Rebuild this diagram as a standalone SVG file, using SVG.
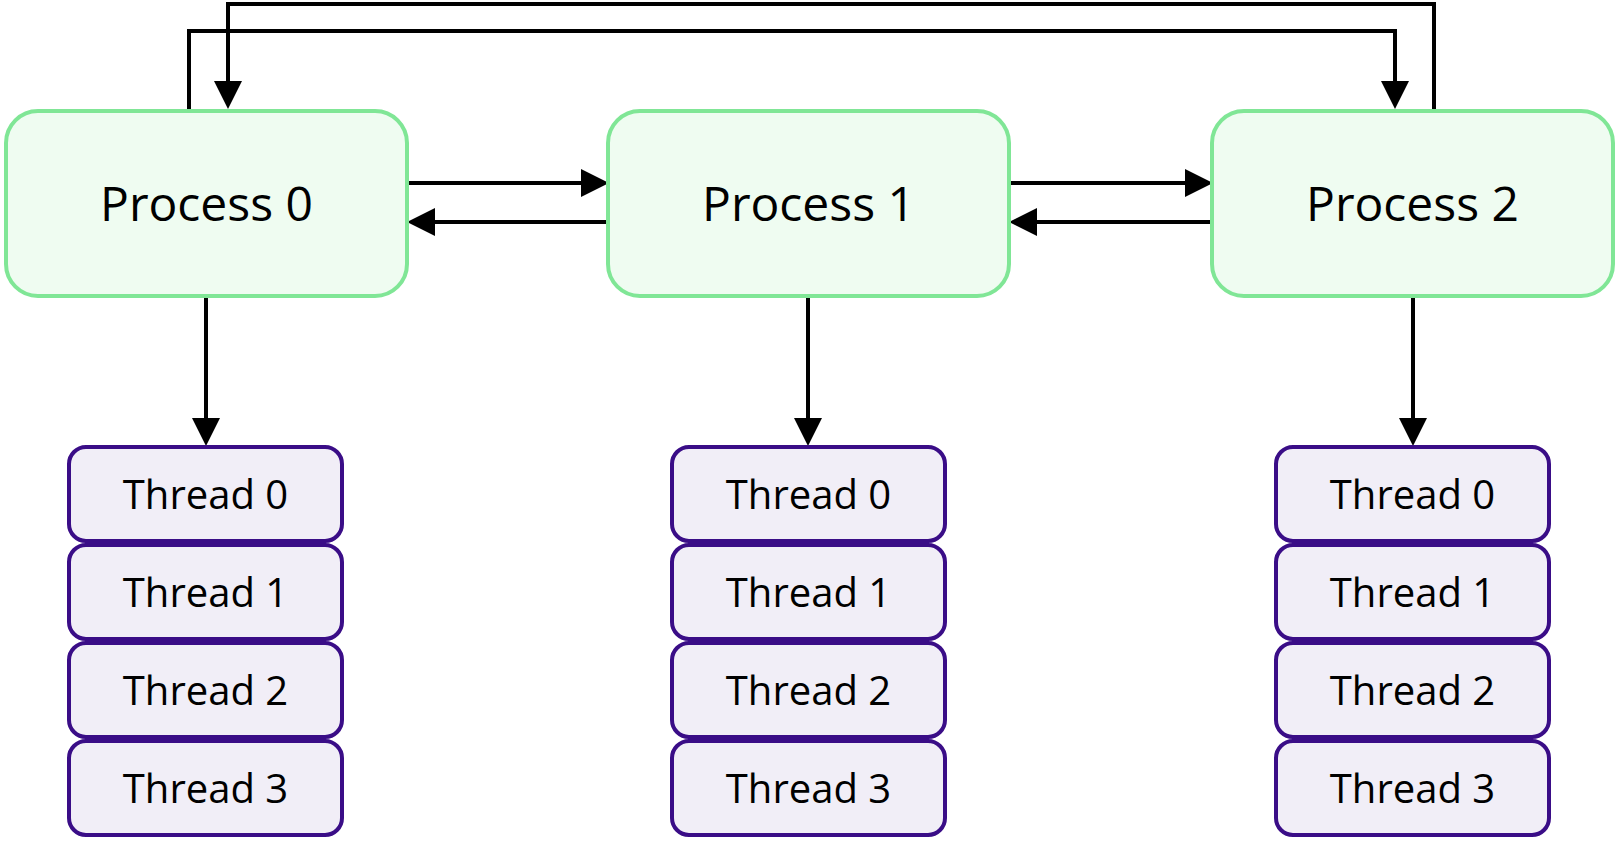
<svg xmlns="http://www.w3.org/2000/svg" width="1617" height="847" viewBox="0 0 1617 847">
<style>
.proc rect{fill:#effcf1;stroke:#80e696;stroke-width:4}
.thr rect{fill:#f1eef7;stroke:#3a0d87;stroke-width:4}
text{font-family:"Open Sans","Noto Sans",sans-serif;fill:#000;text-anchor:middle}
.proc text{font-size:48px}
.thr text{font-size:40px}
.conn path{fill:none;stroke:#000;stroke-width:4}
</style>
<defs>
<marker id="ah" markerUnits="userSpaceOnUse" markerWidth="28" markerHeight="28" refX="0" refY="13.5" orient="auto" viewBox="0 0 27 27">
<path d="M0,0 L27,13.5 L0,27 Z" fill="#000"/>
</marker>
</defs>
<rect width="1617" height="847" fill="#fff"/>
<g class="conn">
<path d="M189,110 V31 H1395 V81" marker-end="url(#ah)"/>
<path d="M1434,110 V4 H228 V81" marker-end="url(#ah)"/>
<path d="M407,183 H581" marker-end="url(#ah)"/>
<path d="M608,222 H435" marker-end="url(#ah)"/>
<path d="M1010,183 H1185" marker-end="url(#ah)"/>
<path d="M1212,222 H1037" marker-end="url(#ah)"/>
<path d="M206,298 V418" marker-end="url(#ah)"/>
<path d="M808,298 V418" marker-end="url(#ah)"/>
<path d="M1413,298 V418" marker-end="url(#ah)"/>
</g>
<g id="process0" class="proc"><rect x="6" y="111" width="401" height="185" rx="32"/><text x="206.5" y="221">Process 0</text></g>
<g id="process1" class="proc"><rect x="608" y="111" width="401" height="185" rx="32"/><text x="808.5" y="221">Process 1</text></g>
<g id="process2" class="proc"><rect x="1212" y="111" width="401" height="185" rx="32"/><text x="1412.5" y="221">Process 2</text></g>
<g id="p0t0" class="thr"><rect x="69" y="447" width="273" height="94" rx="17"/><text x="205.5" y="509">Thread 0</text></g>
<g id="p0t1" class="thr"><rect x="69" y="545" width="273" height="94" rx="17"/><text x="205.5" y="607">Thread 1</text></g>
<g id="p0t2" class="thr"><rect x="69" y="643" width="273" height="94" rx="17"/><text x="205.5" y="705">Thread 2</text></g>
<g id="p0t3" class="thr"><rect x="69" y="741" width="273" height="94" rx="17"/><text x="205.5" y="803">Thread 3</text></g>
<g id="p1t0" class="thr"><rect x="672" y="447" width="273" height="94" rx="17"/><text x="808.5" y="509">Thread 0</text></g>
<g id="p1t1" class="thr"><rect x="672" y="545" width="273" height="94" rx="17"/><text x="808.5" y="607">Thread 1</text></g>
<g id="p1t2" class="thr"><rect x="672" y="643" width="273" height="94" rx="17"/><text x="808.5" y="705">Thread 2</text></g>
<g id="p1t3" class="thr"><rect x="672" y="741" width="273" height="94" rx="17"/><text x="808.5" y="803">Thread 3</text></g>
<g id="p2t0" class="thr"><rect x="1276" y="447" width="273" height="94" rx="17"/><text x="1412.5" y="509">Thread 0</text></g>
<g id="p2t1" class="thr"><rect x="1276" y="545" width="273" height="94" rx="17"/><text x="1412.5" y="607">Thread 1</text></g>
<g id="p2t2" class="thr"><rect x="1276" y="643" width="273" height="94" rx="17"/><text x="1412.5" y="705">Thread 2</text></g>
<g id="p2t3" class="thr"><rect x="1276" y="741" width="273" height="94" rx="17"/><text x="1412.5" y="803">Thread 3</text></g>
</svg>
